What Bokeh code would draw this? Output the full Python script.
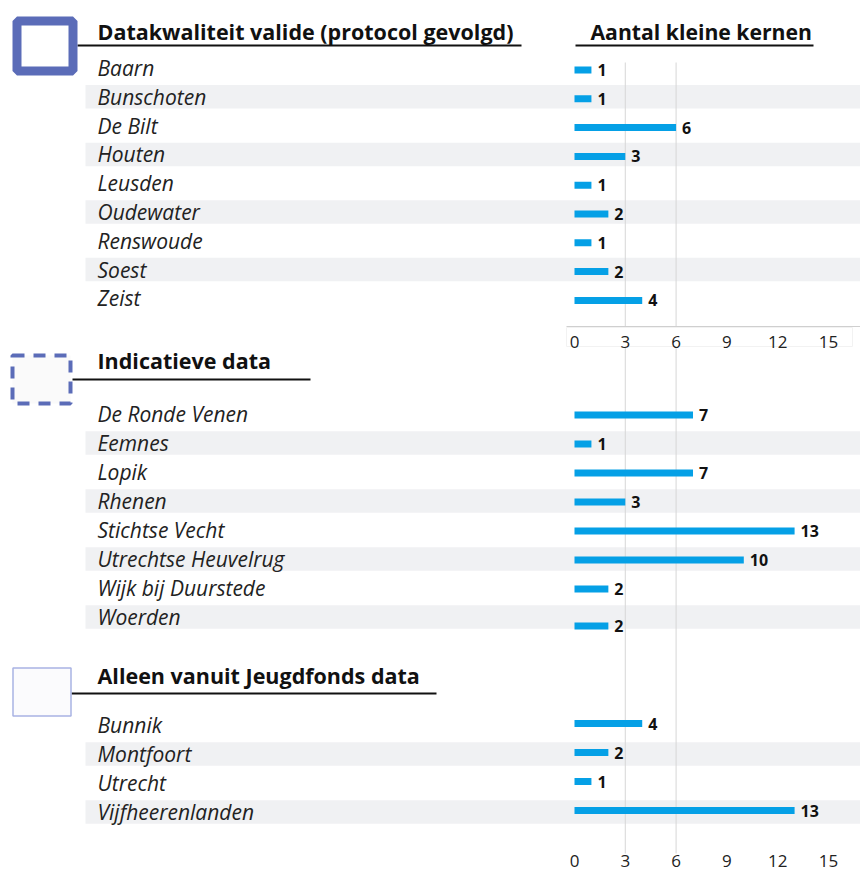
from bokeh.plotting import figure
from bokeh.models import Range1d
from bokeh.core.properties import value
from bokeh.embed import file_html
from bokeh.resources import INLINE

# ---------------- data ----------------
group_titles = ["Datakwaliteit valide (protocol gevolgd)", "Indicatieve data", "Alleen vanuit Jeugdfonds data"]
value_title = "Aantal kleine kernen"

g1_names = ["Baarn", "Bunschoten", "De Bilt", "Houten", "Leusden", "Oudewater", "Renswoude", "Soest", "Zeist"]
g1_values = [1, 1, 6, 3, 1, 2, 1, 2, 4]

g2_names = ["De Ronde Venen", "Eemnes", "Lopik", "Rhenen", "Stichtse Vecht", "Utrechtse Heuvelrug",
            "Wijk bij Duurstede", "Woerden"]
g2_values = [7, 1, 7, 3, 13, 10, 2, 2]

g3_names = ["Bunnik", "Montfoort", "Utrecht", "Vijfheerenlanden"]
g3_values = [4, 2, 1, 13]

tick_values = [0, 3, 6, 9, 12, 15]
grid_values = [3, 6]

# ---------------- layout (pixels of the picture) ----------------
W, H = 860, 870
X0PX = 574.0      # x pixel of value 0
K = 16.93         # pixels per unit


def X(px):
    return (px - X0PX) / K


FONT = value("Open Sans")
BAR_COLOR = "#05a0e6"
BAND_COLOR = "#f0f1f3"
BOX_COLOR = "#5b6cb8"

p = figure(width=W, height=H, output_backend="svg", toolbar_location=None,
           x_range=Range1d(X(0), X(W)), y_range=Range1d(H, 0),
           min_border=0, outline_line_color=None)
p.axis.visible = False
p.grid.visible = False
p.background_fill_color = "white"
p.border_fill_color = "white"

groups = [
    (g1_names, g1_values, 67.5, 28.8, 2.0),
    (g2_names, g2_values, 413.5, 29.0, 1.0),
    (g3_names, g3_values, 724.5, 29.0, -1.5),
]

# bands first
for names, vals, y0, step, boff in groups:
    rows = [y0 + step * i for i in range(len(names))]
    band_rows = [r for i, r in enumerate(rows) if i % 2 == 1]
    p.hbar(y=band_rows, left=X(85), right=X(880), height=23.5, fill_color=BAND_COLOR, line_color=None)

# gridlines
p.segment(x0=grid_values, x1=grid_values, y0=[62] * len(grid_values), y1=[853] * len(grid_values),
          line_color="#d6d6d6", line_width=1)

# middle axis: white box with tick labels, axis line
p.quad(left=X(566), right=X(852), top=327, bottom=346, fill_color="white", line_color="#f2f2f2", line_width=1)
p.segment(x0=X(566), x1=X(880), y0=326, y1=326, line_color="#cfcfcf", line_width=1)
p.text(x=tick_values, y=[341] * len(tick_values), text=[str(t) for t in tick_values],
       text_font=FONT, text_font_size="17px", text_color="#222222",
       text_align="center", text_baseline="middle")
p.text(x=tick_values, y=[860] * len(tick_values), text=[str(t) for t in tick_values],
       text_font=FONT, text_font_size="17px", text_color="#222222",
       text_align="center", text_baseline="middle")

# bars, labels and values
for gi, (names, vals, y0, step, boff) in enumerate(groups):
    rows = [y0 + step * i for i in range(len(names))]
    bar_rows = [r + boff for r in rows]
    if gi == 1:
        bar_rows[-1] = rows[-1] + 9
    p.hbar(y=bar_rows, left=0, right=vals, height=7, fill_color=BAR_COLOR, line_color=None)
    p.text(x=vals, y=bar_rows, text=[str(v) for v in vals], x_offset=6,
           text_font=FONT, text_font_size="16px", text_font_style="bold", text_color="#111111",
           text_align="left", text_baseline="middle")
    p.text(x=[X(97)] * len(names), y=rows, text=names,
           text_font=FONT, text_font_size="21px", text_font_style="italic", text_color="#222222",
           text_align="left", text_baseline="middle")

# headers with underlines
header_y = [31, 360, 675]
underline_y = [45, 379, 693]
underline_x0 = [77, 72, 71]
underline_x1 = [521, 310, 436]
p.text(x=[X(97)] * 3, y=header_y, text=group_titles,
       text_font=FONT, text_font_size="21.5px", text_font_style="bold", text_color="#111111",
       text_align="left", text_baseline="middle")
p.segment(x0=[X(v) for v in underline_x0], x1=[X(v) for v in underline_x1],
          y0=underline_y, y1=underline_y, line_color="#111111", line_width=2)
p.text(x=[X(590)], y=[31], text=[value_title],
       text_font=FONT, text_font_size="21.2px", text_font_style="bold", text_color="#111111",
       text_align="left", text_baseline="middle")
p.segment(x0=[X(575)], x1=[X(813)], y0=[45], y1=[45], line_color="#111111", line_width=2)

# legend-like boxes
p.quad(left=X(16.5), right=X(72.5), top=20.5, bottom=70.5,
       fill_color="white", line_color=BOX_COLOR, line_width=9)
p.quad(left=X(12), right=X(70), top=355, bottom=403,
       fill_color="#fafafa", line_color=BOX_COLOR, line_width=4, line_dash="12 9")
p.quad(left=X(12.5), right=X(70.5), top=667.5, bottom=715.5,
       fill_color="#fbfbfd", line_color="#a9b3e3", line_width=1.5)

open("out.html", "w").write(file_html(p, INLINE))
